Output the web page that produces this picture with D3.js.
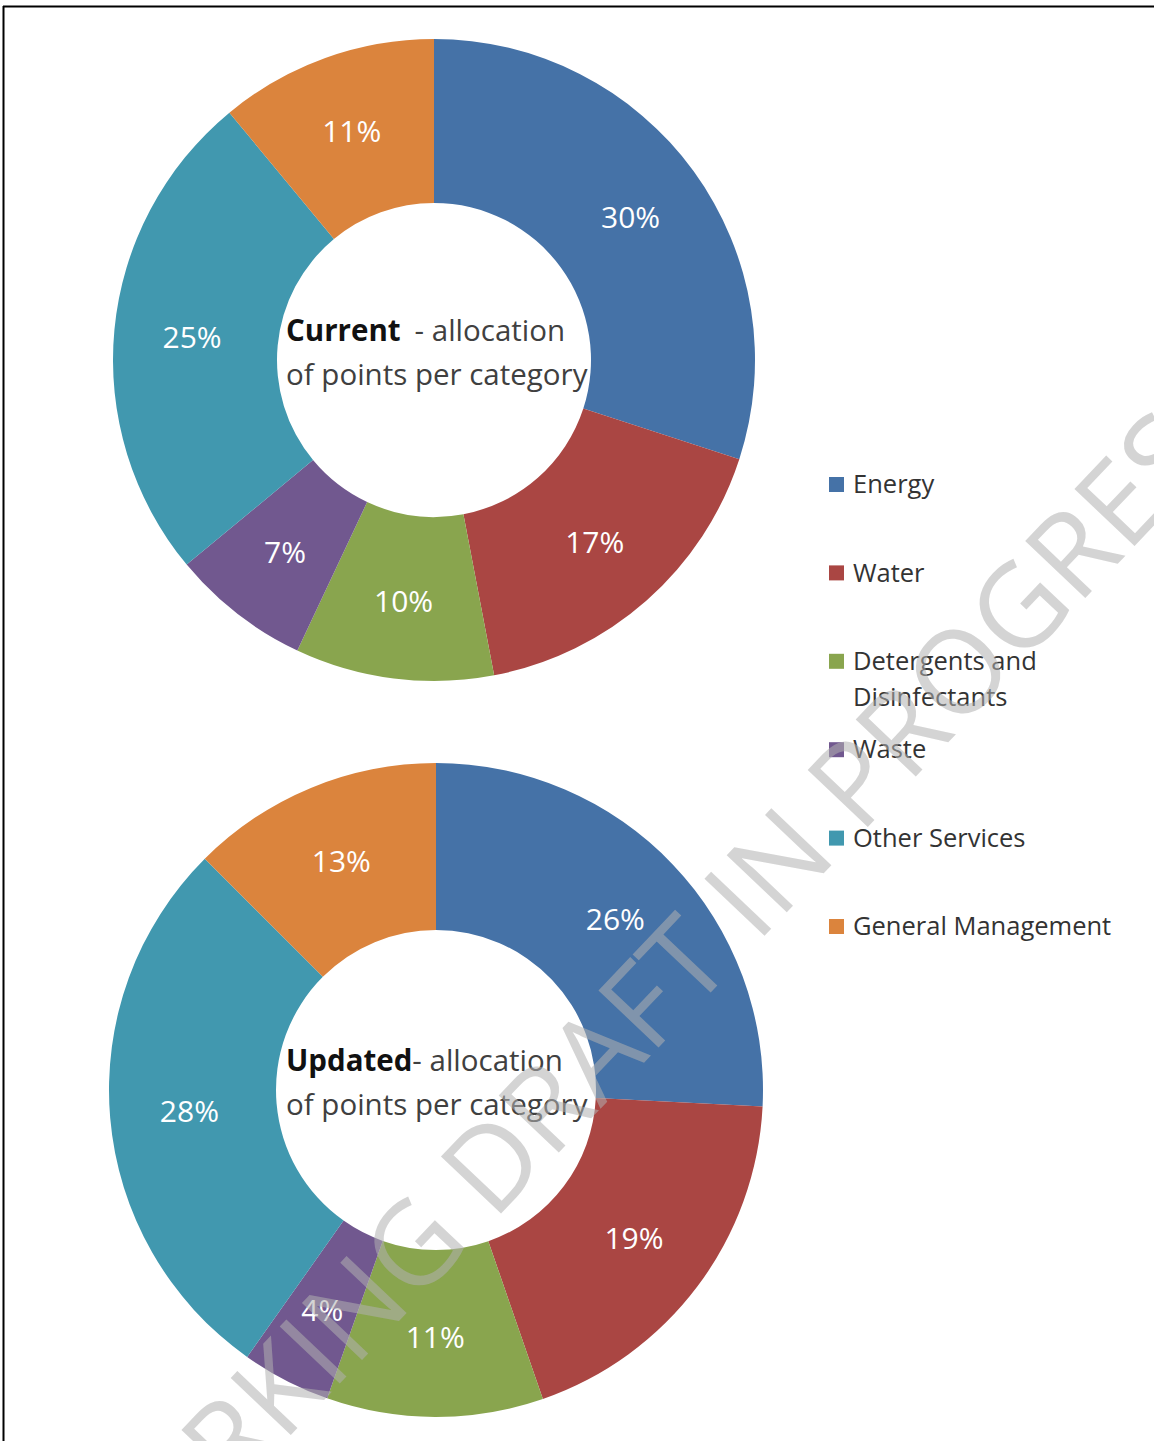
<!DOCTYPE html>
<html>
<head>
<meta charset="utf-8">
<script src="https://cdn.jsdelivr.net/npm/d3@7"></script>
<style>
  body { margin: 0; background: #fff; }
  svg text { font-family: "Open Sans", sans-serif; }
</style>
</head>
<body>
<svg id="mySvg" width="1154" height="1441"></svg>
<script>
// values (percent of points)
var categories = ["Energy", "Water", "Detergents and Disinfectants", "Waste", "Other Services", "General Management"];
var currentValues = [30, 17, 10, 7, 25, 11];
var updatedValues = [25.8, 18.9, 10.7, 4.4, 27.7, 12.5];
var legendLines = [["Energy"], ["Water"], ["Detergents and", "Disinfectants"], ["Waste"], ["Other Services"], ["General Management"]];
var colors = ["#4572A7", "#AA4643", "#89A54E", "#71588F", "#4198AF", "#DB843D"];
var watermarkText = "WORKING DRAFT IN PROGRESS";

var svgWidth = 1154;
var svgHeight = 1441;

var svg = d3.select("#mySvg");

var color = d3.scaleOrdinal()
    .domain(categories)
    .range(colors);

// frame (only left and top edges show in the picture)
svg.append("line")
    .attr("x1", 3.5).attr("y1", 6).attr("x2", 3.5).attr("y2", svgHeight)
    .attr("stroke", "#000").attr("stroke-width", 2);
svg.append("line")
    .attr("x1", 3).attr("y1", 6.5).attr("x2", svgWidth).attr("y2", 6.5)
    .attr("stroke", "#000").attr("stroke-width", 2);

drawDonut(currentValues, 434, 360, 321, 157, "Current", "- allocation", 14);
drawDonut(updatedValues, 436, 1090, 327, 160, "Updated", "- allocation", 0);
drawLegend();
drawWatermark();

function drawDonut(values, cx, cy, rOuter, rInner, boldWord, rest, gap) {
    var pie = d3.pie().sort(null).value(d => d.value);
    var data = pie(values.map((v, i) => ({ name: categories[i], value: v })));

    var arc = d3.arc().innerRadius(rInner).outerRadius(rOuter);
    var labelArc = d3.arc().innerRadius((rInner + rOuter) / 2 + 4).outerRadius((rInner + rOuter) / 2 + 4);

    var g = svg.append("g")
        .attr("transform", "translate(" + cx + "," + cy + ")");

    g.selectAll(".slice")
        .data(data)
        .enter()
        .append("path")
        .attr("class", "slice")
        .attr("d", arc)
        .attr("fill", d => color(d.data.name));

    g.selectAll(".pct")
        .data(data)
        .enter()
        .append("text")
        .attr("class", "pct")
        .attr("transform", d => "translate(" + labelArc.centroid(d) + ")")
        .attr("text-anchor", "middle")
        .attr("dy", "0.36em")
        .attr("fill", "#fff")
        .attr("font-size", 30)
        .text(d => Math.round(d.data.value) + "%");

    // title inside the hole, left edge lines up at x=286 in both charts
    var title = g.append("text")
        .attr("x", 286 - cx)
        .attr("y", -19)
        .attr("font-size", 29.5)
        .attr("fill", "#404040");
    title.append("tspan")
        .attr("font-weight", "bold")
        .attr("fill", "#111")
        .text(boldWord);
    title.append("tspan")
        .attr("dx", gap)
        .text(rest);

    g.append("text")
        .attr("x", 286 - cx)
        .attr("y", 25)
        .attr("font-size", 29.5)
        .attr("fill", "#404040")
        .text("of points per category");
}

function drawLegend() {
    var yScale = d3.scaleLinear()
        .domain([0, categories.length - 1])
        .range([484, 926]);

    var legend = svg.append("g").attr("class", "legend");

    var item = legend.selectAll(".item")
        .data(categories)
        .enter()
        .append("g")
        .attr("class", "item")
        .attr("transform", (d, i) => "translate(829," + yScale(i) + ")");

    item.append("rect")
        .attr("x", 0)
        .attr("y", -7)
        .attr("width", 15)
        .attr("height", 15)
        .attr("fill", d => color(d));

    item.append("text")
        .attr("x", 24)
        .attr("font-size", 25.5)
        .attr("fill", "#333")
        .selectAll("tspan")
        .data((d, i) => legendLines[i])
        .enter()
        .append("tspan")
        .attr("x", 24)
        .attr("y", (d, j) => j * 36)
        .attr("dy", "0.36em")
        .text(d => d);
}

function drawWatermark() {
    svg.append("text")
        .attr("transform", "translate(648,998) rotate(-46.5)")
        .attr("text-anchor", "middle")
        .attr("dy", "0.36em")
        .attr("font-size", 116)
        .attr("fill", "#b0b0b0")
        .attr("fill-opacity", 0.55)
        .text(watermarkText);
}
</script>
</body>
</html>
